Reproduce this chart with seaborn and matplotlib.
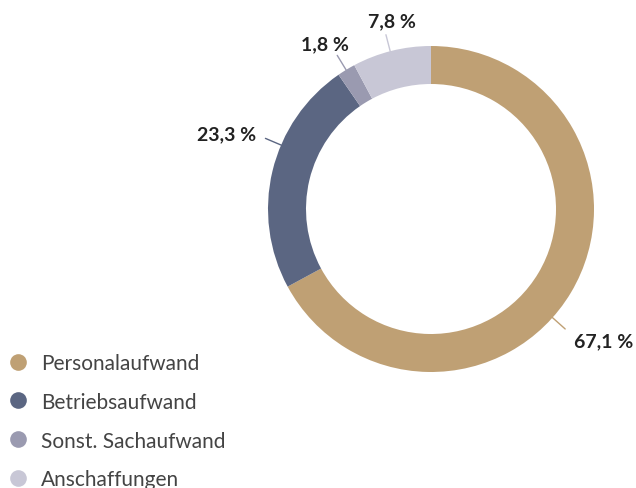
import numpy as np
import matplotlib
matplotlib.use('Agg')
import matplotlib.pyplot as plt
from matplotlib.lines import Line2D
import seaborn as sns

# data
categories = ['Personalaufwand', 'Betriebsaufwand', 'Sonst. Sachaufwand', 'Anschaffungen']
shares = [67.1, 23.3, 1.8, 7.8]
value_labels = ['67,1 %', '23,3 %', '1,8 %', '7,8 %']
colors = ['#BFA074', '#5B6682', '#9A9AB0', '#C8C7D6']

# label placement (pixels, y up) and leader-line angles in degrees
label_xy = [(574, 147), (256, 354), (349, 444), (368, 467)]
label_ha = ['left', 'right', 'right', 'left']
leader_angles = [-41.8, 156.9, 121.4, 104.5]

sns.set_theme(style='white')
plt.rcParams['font.family'] = ['Lato', 'DejaVu Sans']

W, H = 636, 489
fig = plt.figure(figsize=(W / 100, H / 100), dpi=100)
ax = fig.add_axes([0, 0, 1, 1])

cx, cy, R = 431, H - 210, 163
ax.pie(shares, colors=colors, startangle=90, counterclock=False,
       radius=R, center=(cx, cy),
       wedgeprops=dict(width=38, edgecolor='none', linewidth=0))

for ang, col in zip(leader_angles, colors):
    t = np.deg2rad(ang)
    ax.plot([cx + (R - 1) * np.cos(t), cx + (R + 17) * np.cos(t)],
            [cy + (R - 1) * np.sin(t), cy + (R + 17) * np.sin(t)],
            color=col, lw=1)

for (x, y), txt, ha in zip(label_xy, value_labels, label_ha):
    ax.text(x, y, txt, ha=ha, va='center', fontsize=14, fontweight='bold',
            color='#222222')

ax.set_xlim(0, W)
ax.set_ylim(0, H)
ax.set_aspect('equal')
ax.axis('off')

# legend (last row runs off the bottom edge, as in the original)
handles = [Line2D([], [], marker='o', ls='none', markersize=12,
                  markerfacecolor=c, markeredgecolor='none') for c in colors]
leg = fig.legend(handles, categories, loc='upper left',
                 bbox_to_anchor=(7.6 / W, 1 - 354 / H), frameon=False,
                 fontsize=15, labelspacing=0.9, handletextpad=0.6,
                 handlelength=1.0, borderaxespad=0, borderpad=0,
                 labelcolor='#444444')

fig.savefig('out.png', dpi=100)
